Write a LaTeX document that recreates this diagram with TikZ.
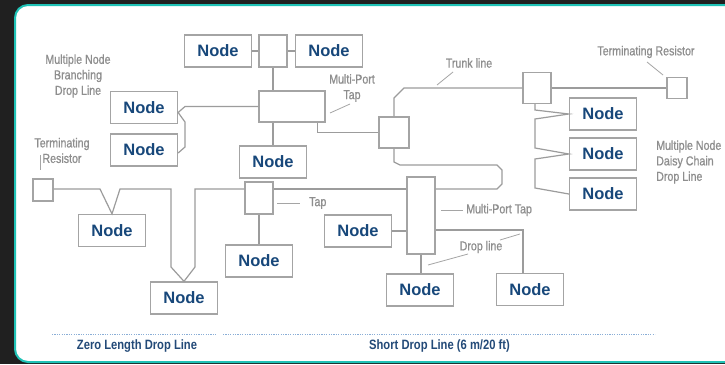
\documentclass[tikz,border=0pt]{standalone}
\usepackage{fontspec}
\setmainfont{Liberation Sans}
\newfontfamily\condfont[FakeStretch=0.82,FakeBold=0.8]{Liberation Sans}
\newfontfamily\footfont[FakeStretch=0.83]{Liberation Sans Bold}
\definecolor{bgdark}{HTML}{202020}
\definecolor{panelteal}{HTML}{1FC2B6}
\definecolor{nodeblue}{HTML}{17477A}
\definecolor{footblue}{HTML}{234A78}
\definecolor{boxgray}{HTML}{A4A4A4}
\definecolor{linegray}{HTML}{9C9C9C}
\definecolor{lblgray}{HTML}{8E8E8E}
\definecolor{dotblue}{HTML}{8AAED6}
\tikzset{
	nodebox/.style={draw=boxgray,line width=1.3pt,fill=white,minimum width=67pt,minimum height=32pt,inner sep=0pt,text=nodeblue,font=\bfseries\fontsize{16.5}{18}\selectfont},
	tapbox/.style 2 args={draw=boxgray,line width=1.3pt,fill=white,minimum width=#1,minimum height=#2,inner sep=0pt},
	cable/.style={draw=linegray,line width=1.2pt},
	leader/.style={draw=lblgray!80,line width=0.8pt},
	lbl/.style={text=lblgray,font=\condfont\fontsize{13}{15.5}\selectfont,align=center,inner sep=0pt},
	foot/.style={text=footblue,font=\footfont\fontsize{13.5}{15}\selectfont,inner sep=0pt},
	dotline/.style={draw=dotblue,line width=0.8pt,dash pattern=on 1.2pt off 1.2pt}
}

\begin{document}
\begin{tikzpicture}[x=1pt,y=-1pt]
	\useasboundingbox (0,0) rectangle (725,364);
	\fill [bgdark] (0,0) rectangle (725,364);
	\begin{scope}
		\clip (0,0) rectangle (725,364);
		\draw [panelteal,line width=2pt,fill=white,rounded corners=13pt] (15,5) rectangle (760,362);
	\end{scope}

	% nodes, taps and resistors
	\node [nodebox] (n1) at (218,51) {Node};
	\node [tapbox={28pt}{32pt}] (tap1) at (273,51) {};
	\node [nodebox] (n2) at (329,51) {Node};
	\node [tapbox={66pt}{31pt}] (mpt1) at (292,106.5) {};
	\node [nodebox] (n3) at (144,107.5) {Node};
	\node [nodebox] (n4) at (144,150) {Node};
	\node [nodebox] (n5) at (273,162) {Node};
	\node [tapbox={30pt}{31pt}] (tap2) at (394,132.5) {};
	\node [tapbox={28pt}{31pt}] (tap3) at (537,88) {};
	\node [tapbox={20pt}{21pt}] (res1) at (677,88) {};
	\node [nodebox] (n6) at (603,114) {Node};
	\node [nodebox] (n7) at (603,154) {Node};
	\node [nodebox] (n8) at (603,194) {Node};
	\node [tapbox={20pt}{22pt}] (res2) at (43,190) {};
	\node [tapbox={28pt}{32pt}] (tap4) at (259,198) {};
	\node [tapbox={28pt}{77pt}] (mpt2) at (421,215.5) {};
	\node [nodebox] (n9) at (112,230.5) {Node};
	\node [nodebox] (n10) at (184,298) {Node};
	\node [nodebox] (n11) at (259,261) {Node};
	\node [nodebox] (n12) at (358,231) {Node};
	\node [nodebox] (n13) at (420,290) {Node};
	\node [nodebox] (n14) at (530,289.5) {Node};

	% cables
	\draw [cable] (n1) -- (tap1) -- (n2);
	\draw [cable] (tap1.south) -- (tap1.south |- mpt1.north);
	\draw [cable] (mpt1.west) -- (185,106.5) -- ([yshift=-5pt]n3.east) -- (185,122) -- (185,147) -- ([yshift=-3pt]n4.east);
	\draw [cable] (mpt1.south -| n5.north) -- (n5.north);
	\draw [cable] ([xshift=-8pt]mpt1.south east) |- (tap2.west);
	\draw [cable] (tap2.north) -- (394,98) -- (404,88) -- (tap3.west);
	\draw [cable] (tap3.east) -- (res1.west);
	\draw [cable] ([xshift=-2pt]tap3.south) -- (535,110) -- (n6.west) -- (535,119) -- (535,148) -- (n7.west) -- (535,159) -- (535,188) -- (n8.west);
	\draw [cable] (tap2.south) -- (394,162) -- (400,165) -- (497,165) -- (502,170) -- (502,184) -- (497,189) -- (mpt2.east |- 0,189);
	\draw [cable] (mpt2.west |- 0,189) -- (tap4.east |- 0,189);
	\draw [cable] (tap4.west |- 0,189) -- (195,189) -- (195,267) -- (n10.north) -- (171,267) -- (171,189) -- (120,189) -- (n9.north) -- (100,189) -- (res2.east |- 0,189);
	\draw [cable] (tap4.south) -- (n11.north);
	\draw [cable] (n12.east) -- (n12.east -| mpt2.west);
	\draw [cable] (mpt2.east |- 0,230) -| ([xshift=-7pt]n14.north);
	\draw [cable] (mpt2.south) -- (mpt2.south |- n13.north);

	% labels
	\node [lbl] (l1) at (78,76) {Multiple Node\\Branching\\Drop Line};
	\node [lbl] (l2) at (352,88) {Multi-Port\\Tap};
	\node [lbl] (l3) at (469,63) {Trunk line};
	\node [lbl] (l4) at (646,52) {Terminating Resistor};
	\node [lbl,align=left,anchor=west] (l5) at (656,162) {Multiple Node\\Daisy Chain\\Drop Line};
	\node [lbl] (l6) at (62,150.5) {Terminating\\Resistor};
	\node [lbl,anchor=west] (l7) at (309,203) {Tap};
	\node [lbl,anchor=west] (l8) at (466,210) {Multi-Port Tap};
	\node [lbl] (l9) at (481,247) {Drop line};

	\draw [leader] (330,113) -- (350,104);
	\draw [leader] (437,85) -- (453,72);
	\draw [leader] (647,62) -- (663,75);
	\draw [leader] (40,155) -- (40,170);
	\draw [leader] (277,203) -- (300,203);
	\draw [leader] (441,210) -- (463,210);
	\draw [leader] (428,265) -- (468,254);
	\draw [leader] (500,240) -- (520,234);

	% drop line lengths
	\draw [dotline] (52,334) -- (217,334);
	\draw [dotline] (223,334) -- (655,334);
	\node [foot] (z) at (137,346) {Zero Length Drop Line};
	\node [foot] (s) at (439.5,346) {Short Drop Line (6 m/20 ft)};
\end{tikzpicture}
\end{document}
